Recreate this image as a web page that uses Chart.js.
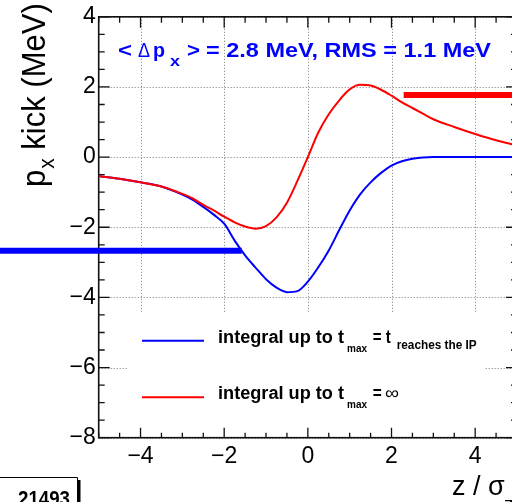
<!DOCTYPE html>
<html><head><meta charset="utf-8">
<script src="https://cdn.jsdelivr.net/npm/chart.js@4.4.1/dist/chart.umd.min.js"></script>
<style>
html,body{margin:0;padding:0;background:#fff;overflow:hidden;width:512px;height:502px;}
#wrap{position:absolute;left:0;top:0;width:540px;height:502px;}
</style></head><body>
<div id="wrap"><canvas id="c" width="540" height="502"></canvas></div>
<script>
// ---- data ----
const zValues   = [-5, -4.5, -4, -3.5, -3, -2.75, -2.5, -2.25, -2, -1.75, -1.5, -1.25, -1, -0.75, -0.5, -0.25, 0, 0.25, 0.5, 0.75, 1, 1.25, 1.5, 1.75, 2, 2.25, 2.5, 2.75, 3, 3.5, 4, 4.5, 5];
const kickToIP  = [-0.54, -0.62, -0.72, -0.84, -1.07, -1.22, -1.42, -1.64, -1.90, -2.38, -2.80, -3.15, -3.48, -3.72, -3.85, -3.82, -3.55, -3.14, -2.66, -2.08, -1.52, -1.06, -0.72, -0.45, -0.24, -0.12, -0.05, -0.01, 0, 0, 0, 0, 0];
const kickToInf = [-0.54, -0.62, -0.72, -0.84, -1.05, -1.18, -1.36, -1.52, -1.70, -1.86, -1.98, -2.04, -1.97, -1.72, -1.30, -0.68, 0.00, 0.70, 1.22, 1.62, 1.93, 2.06, 2.04, 1.92, 1.75, 1.56, 1.40, 1.24, 1.08, 0.86, 0.66, 0.48, 0.33];
const meanKickIP  = -2.67;   // thick blue marker level
const meanKickInf = 1.77;    // thick red marker level
const meanIPSpan  = [-7.4, -1.58];
const meanInfSpan = [2.29, 5.6];
const xTickValues = [-4, -2, 0, 2, 4];
const yTickValues = [-8, -6, -4, -2, 0, 2, 4];
const xRange = [-5, 5];
const yRange = [-8, 4];
const minorStep = 0.5;

const FONT = "'Liberation Sans', Arial, Helvetica, sans-serif";
const fmt = v => (v < 0 ? '\u2212' + Math.abs(v) : String(v));
const pts = (xs, ys) => xs.map((x, i) => ({x, y: ys[i]}));

function seg(ctx, text, x, y, font, color, targetW) {
  ctx.save();
  ctx.font = font; ctx.fillStyle = color; ctx.textAlign = 'left'; ctx.textBaseline = 'alphabetic';
  const w = ctx.measureText(text).width;
  ctx.translate(x, y);
  if (targetW) ctx.scale(targetW / w, 1);
  ctx.fillText(text, 0, 0);
  ctx.restore();
}

const rootStyle = {
  id: 'rootStyle',
  beforeDatasetsDraw(chart) {
    const ctx = chart.ctx, a = chart.chartArea, xs = chart.scales.x, ys = chart.scales.y;
    ctx.save();
    // dotted grid
    ctx.setLineDash([1, 2]); ctx.strokeStyle = '#7a7a7a'; ctx.lineWidth = 1;
    xTickValues.forEach(v => { const p = Math.round(xs.getPixelForValue(v)) + 0.5; ctx.beginPath(); ctx.moveTo(p, a.top); ctx.lineTo(p, a.bottom); ctx.stroke(); });
    yTickValues.forEach(v => { const p = Math.round(ys.getPixelForValue(v)) + 0.5; ctx.beginPath(); ctx.moveTo(a.left, p); ctx.lineTo(a.right, p); ctx.stroke(); });
    ctx.setLineDash([]);
    // legend box (white, covers grid)
    ctx.fillStyle = '#fff';
    ctx.fillRect(128, 312, 357, a.bottom - 312);
    // frame
    ctx.strokeStyle = '#111'; ctx.lineWidth = 1.6;
    ctx.strokeRect(a.left, a.top, a.right - a.left, a.bottom - a.top);
    // ticks
    ctx.lineWidth = 1.3;
    const isMajor = (v, list) => list.some(t => Math.abs(t - v) < 1e-6);
    for (let v = xRange[0]; v <= xRange[1] + 1e-9; v += minorStep) {
      const p = xs.getPixelForValue(v), maj = isMajor(v, xTickValues);
      ctx.beginPath();
      ctx.moveTo(p, a.bottom); ctx.lineTo(p, a.bottom - (maj ? 10 : 5));
      ctx.moveTo(p, a.top); ctx.lineTo(p, a.top + (maj ? 11 : 6));
      ctx.stroke();
    }
    for (let v = yRange[0]; v <= yRange[1] + 1e-9; v += minorStep) {
      const p = ys.getPixelForValue(v), maj = isMajor(v, yTickValues);
      ctx.beginPath();
      ctx.moveTo(a.left, p); ctx.lineTo(a.left + (maj ? 11 : 6), p);
      ctx.moveTo(a.right, p); ctx.lineTo(a.right - (maj ? 11 : 6), p);
      ctx.stroke();
    }
    ctx.restore();
  },
  afterDatasetsDraw(chart) {
    const ctx = chart.ctx;
    ctx.save();
    // header text
    const blue = '#0000ff';
    seg(ctx, '<', 118, 56.5, 'bold 20px ' + FONT, blue, 14);
    seg(ctx, '\u0394', 138, 56.5, '20px ' + FONT, blue, 12);
    seg(ctx, 'p', 153, 56.5, 'bold 20px ' + FONT, blue, 12);
    seg(ctx, 'x', 170, 66, 'bold 14px ' + FONT, blue, 10);
    seg(ctx, '>', 187, 56.5, 'bold 20px ' + FONT, blue, 13);
    seg(ctx, '= 2.8 MeV, RMS = 1.1 MeV', 206, 56.5, 'bold 20px ' + FONT, blue, 285);
    // legend samples
    ctx.lineWidth = 2;
    ctx.strokeStyle = '#0000ff'; ctx.beginPath(); ctx.moveTo(142, 340.7); ctx.lineTo(204, 340.7); ctx.stroke();
    ctx.strokeStyle = '#ff0000'; ctx.beginPath(); ctx.moveTo(142, 397.3); ctx.lineTo(204, 397.3); ctx.stroke();
    // legend texts
    const k = '#000';
    seg(ctx, 'integral up to t', 218, 343.3, 'bold 18px ' + FONT, k, 126);
    seg(ctx, 'max', 347, 351.7, 'bold 11px ' + FONT, k, 20);
    seg(ctx, '= t', 372.7, 343.3, 'bold 18px ' + FONT, k, 18);
    seg(ctx, 'reaches the IP', 396.7, 349, 'bold 12px ' + FONT, k, 80);
    seg(ctx, 'integral up to t', 218, 399.3, 'bold 18px ' + FONT, k, 126);
    seg(ctx, 'max', 347, 407.5, 'bold 11px ' + FONT, k, 20);
    seg(ctx, '=', 372.7, 399.3, 'bold 18px ' + FONT, k, 9);
    seg(ctx, '\u221E', 385, 399.3, '18px ' + FONT, k, 14);
    // y-axis title (rotated)
    ctx.save();
    ctx.translate(45, 187); ctx.rotate(-Math.PI / 2); ctx.scale(1, 1.08);
    ctx.font = '31px ' + FONT; ctx.fillStyle = '#000';
    ctx.fillText('p', 0, 0);
    let w = ctx.measureText('p').width;
    ctx.font = '21px ' + FONT; ctx.fillText('x', w + 1, 8);
    w += ctx.measureText('x').width + 1;
    ctx.font = '31px ' + FONT; ctx.fillText(' kick (MeV)', w, 0);
    ctx.restore();
    // x-axis title
    seg(ctx, 'z / \u03C3', 452, 495, '27px ' + FONT, '#000');
    seg(ctx, 'z', 504, 510, '19px ' + FONT, '#000');
    // stats box corner
    ctx.strokeStyle = '#000'; ctx.lineWidth = 1;
    ctx.beginPath(); ctx.moveTo(-2, 477.5); ctx.lineTo(77.5, 477.5); ctx.lineTo(77.5, 505); ctx.stroke();
    ctx.fillStyle = '#000'; ctx.fillRect(78, 480, 2.5, 25);
    seg(ctx, '21493', 18, 506, 'bold 22px ' + FONT, '#000', 52);
    ctx.restore();
  }
};

new Chart(document.getElementById('c').getContext('2d'), {
  type: 'line',
  data: {
    datasets: [
      {label: 'integral up to tmax = \u221E', data: pts(zValues, kickToInf), borderColor: '#ff0000', borderWidth: 2, pointRadius: 0, cubicInterpolationMode: 'monotone'},
      {label: 'integral up to tmax = t reaches the IP', data: pts(zValues, kickToIP), borderColor: '#0000ff', borderWidth: 2, pointRadius: 0, cubicInterpolationMode: 'monotone'},
      {label: 'mean IP', data: [{x: meanIPSpan[0], y: meanKickIP}, {x: meanIPSpan[1], y: meanKickIP}], borderColor: '#0000ff', borderWidth: 6, pointRadius: 0, clip: false},
      {label: 'mean inf', data: [{x: meanInfSpan[0], y: meanKickInf}, {x: meanInfSpan[1], y: meanKickInf}], borderColor: '#ff0000', borderWidth: 6, pointRadius: 0, clip: false}
    ]
  },
  options: {
    responsive: false, animation: false, devicePixelRatio: 1,
    layout: {padding: {top: 15, right: 23, left: 0, bottom: 0}},
    plugins: {legend: {display: false}, tooltip: {enabled: false}},
    scales: {
      x: {
        type: 'linear', min: xRange[0], max: xRange[1],
        afterBuildTicks: s => { s.ticks = xTickValues.map(v => ({value: v})); },
        afterFit: s => { s.height = 64.3; },
        grid: {display: false, drawTicks: false}, border: {display: false},
        ticks: {font: {family: FONT, size: 23}, color: '#000', padding: 5, maxRotation: 0, autoSkip: false, callback: v => fmt(v)}
      },
      y: {
        type: 'linear', min: yRange[0], max: yRange[1],
        afterBuildTicks: s => { s.ticks = yTickValues.map(v => ({value: v})); },
        afterFit: s => { s.width = 98.7; },
        grid: {display: false, drawTicks: false}, border: {display: false},
        ticks: {font: {family: FONT, size: 23}, color: '#000', padding: 3, autoSkip: false, callback: v => fmt(v)}
      }
    }
  },
  plugins: [rootStyle]
});
</script>
</body></html>
